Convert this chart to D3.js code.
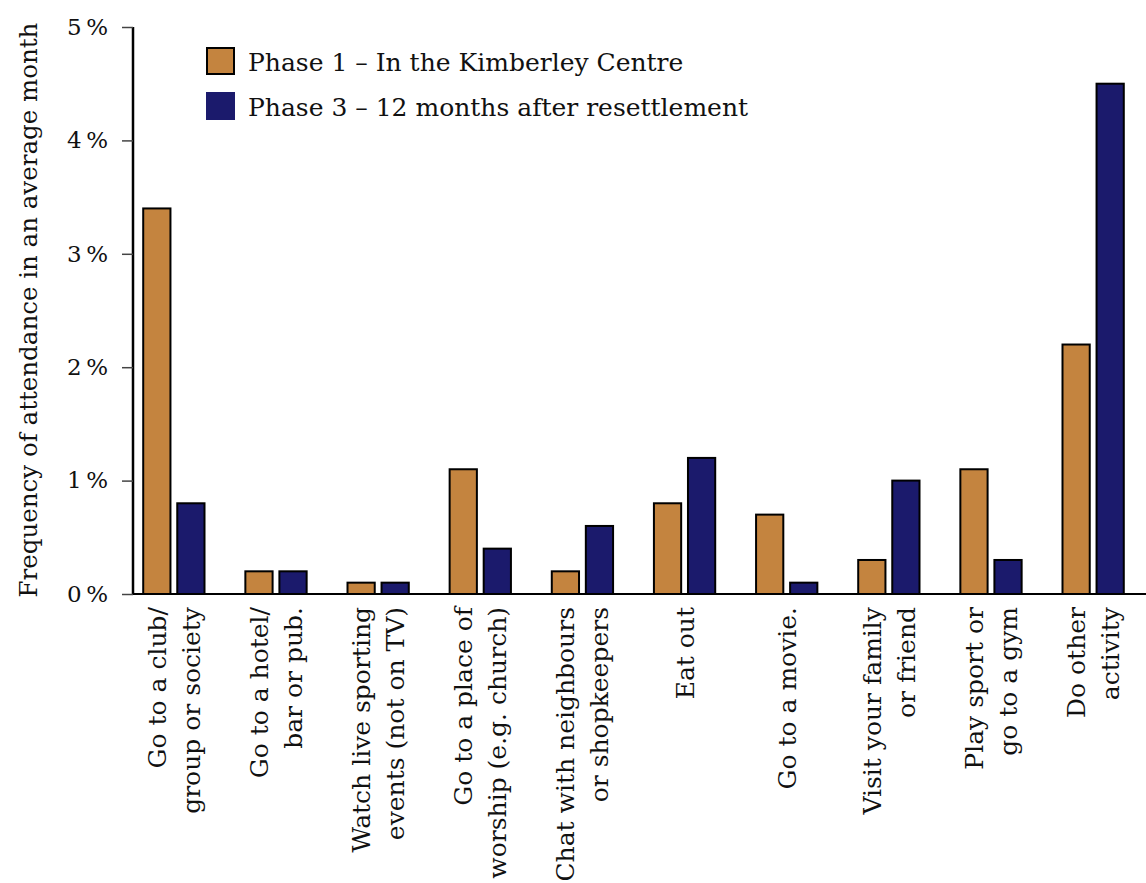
<!DOCTYPE html>
<html><head><meta charset="utf-8">
<script src="https://cdn.jsdelivr.net/npm/d3@7"></script>
<style>body{margin:0;background:#fff;} text{font-family:"DejaVu Serif",serif;fill:#111;}</style>
</head><body>
<svg id="c" width="1146" height="883"></svg>
<script>
const categories = [
  ["Go to a club/","group or society"],
  ["Go to a hotel/","bar or pub."],
  ["Watch live sporting","events (not on TV)"],
  ["Go to a place of","worship (e.g. church)"],
  ["Chat with neighbours","or shopkeepers"],
  ["Eat out"],
  ["Go to a movie."],
  ["Visit your family","or friend"],
  ["Play sport or","go to a gym"],
  ["Do other","activity"]
];
const phase1 = [3.4, 0.2, 0.1, 1.1, 0.2, 0.8, 0.7, 0.3, 1.1, 2.2];
const phase3 = [0.8, 0.2, 0.1, 0.4, 0.6, 1.2, 0.1, 1.0, 0.3, 4.5];
const seriesNames = ["Phase 1 – In the Kimberley Centre", "Phase 3 – 12 months after resettlement"];
const seriesColors = ["#C4843F", "#1B1A6C"];
const yTicks = [0, 1, 2, 3, 4, 5];
const yLabel = "Frequency of attendance in an average month";

(function(){
const svg = d3.select("#c");
const pLeft = 133, pRight = 1134, pTop = 27, pBottom = 594;
const idx = d3.range(categories.length);
const x = d3.scaleBand().domain(idx).range([pLeft, pRight]).paddingInner(0.4).paddingOuter(0.1);
const xs = d3.scaleBand().domain([0,1]).range([0, x.bandwidth()]).paddingInner(0.2);
const y = d3.scaleLinear().domain([0,5]).range([pBottom, pTop]);

const series = [phase1, phase3];
series.forEach((vals, s) => {
  svg.append("g").selectAll("rect").data(vals).join("rect")
    .attr("x", (d,i) => x(i) + xs(s))
    .attr("y", d => y(d))
    .attr("width", xs.bandwidth())
    .attr("height", d => y(0) - y(d))
    .attr("fill", seriesColors[s])
    .attr("stroke", "#000").attr("stroke-width", 2);
});

const ya = svg.append("g").attr("transform", `translate(${pLeft},0)`)
  .call(d3.axisLeft(y).tickValues(yTicks).tickFormat(d => d + "\u2009%").tickSize(11).tickPadding(14));
ya.select(".domain").attr("stroke", "#000").attr("stroke-width", 2.5).attr("d", `M0,${pTop}V${pBottom}`);
ya.selectAll(".tick line").attr("stroke", "#444").attr("stroke-width", 1.5);
ya.selectAll(".tick text").attr("font-size", 23).attr("font-family", "DejaVu Serif, serif").attr("fill", "#111");

svg.append("line").attr("x1", pLeft).attr("x2", 1146).attr("y1", pBottom).attr("y2", pBottom)
  .attr("stroke", "#000").attr("stroke-width", 2);

const lg = svg.append("g");
categories.forEach((lines, i) => {
  const cx = x(i) + x.bandwidth()/2;
  const n = lines.length;
  lines.forEach((t, k) => {
    const off = (k - (n-1)/2) * 34;
    lg.append("text")
      .attr("transform", `translate(${cx + off + 9},${607}) rotate(-90)`)
      .attr("text-anchor", "end")
      .attr("font-size", 25)
      .text(t);
  });
});

svg.append("text").attr("transform", `translate(37,${310}) rotate(-90)`)
  .attr("text-anchor", "middle").attr("font-size", 24.5).text(yLabel);

seriesNames.forEach((nm, s) => {
  const g = svg.append("g").attr("transform", `translate(207,${48 + s*45})`);
  g.append("rect").attr("width", 27).attr("height", 26).attr("fill", seriesColors[s])
    .attr("stroke", s === 0 ? "#000" : seriesColors[s]).attr("stroke-width", 2);
  g.append("text").attr("x", 41).attr("y", 23).attr("font-size", 25).text(nm);
});
})();
</script>
</body></html>
